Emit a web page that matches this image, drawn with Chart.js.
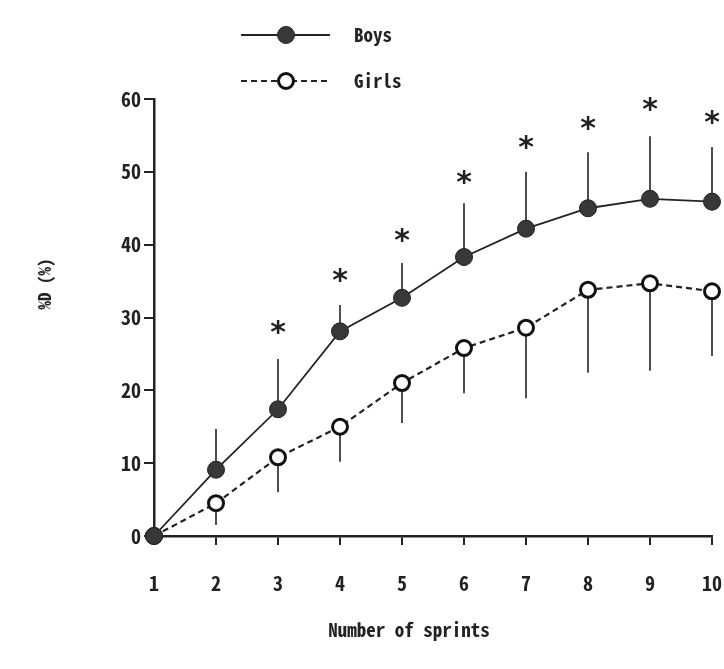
<!DOCTYPE html>
<html>
<head>
<meta charset="utf-8">
<title>%D by sprint</title>
<script src="https://cdn.jsdelivr.net/npm/chart.js@4.4.0/dist/chart.umd.min.js"></script>
<style>
  html, body { margin: 0; padding: 0; background: #fff; }
  #chart { display: block; }
</style>
</head>
<body>
<canvas id="chart" width="724" height="669"></canvas>
<script>
// sprint number and mean %D (SD) for each group
const sprints = [1, 2, 3, 4, 5, 6, 7, 8, 9, 10];
const boysMean = [0, 9.1, 17.4, 28.1, 32.7, 38.3, 42.2, 45.0, 46.3, 45.9];
const boysSD = [0, 5.6, 6.9, 3.6, 4.8, 7.4, 7.8, 7.7, 8.6, 7.5];
const girlsMean = [0, 4.5, 10.8, 15.0, 21.0, 25.8, 28.6, 33.8, 34.7, 33.6];
const girlsSD = [0, 3.0, 4.8, 4.8, 5.5, 6.2, 9.7, 11.4, 12.0, 8.9];
// height of the significance mark (*) above each sprint
const starLevel = [null, null, 28.6, 35.7, 41.3, 49.2, 54.0, 56.7, 59.2, 57.4];
const yTicks = [0, 10, 20, 30, 40, 50, 60];

const ink = '#222';
const numFont = '"Noto Sans Mono CJK JP", "DejaVu Sans Condensed", sans-serif';
const monoFont = '"Noto Sans Mono CJK JP", "DejaVu Sans Mono", monospace';

const boysStyle = { radius: 8.5, fill: '#383838', stroke: ink, width: 1, dash: [] };
const girlsStyle = { radius: 7.5, fill: '#fff', stroke: '#111', width: 3, dash: [6, 4] };

function toPoints(means) {
    return sprints.map((s, i) => ({ x: s, y: means[i] }));
}

// SD whiskers: boys point up, girls point down
const errorBars = {
    id: 'errorBars',
    beforeDatasetsDraw(chart) {
        const { ctx, scales: { x, y } } = chart;
        ctx.save();
        ctx.strokeStyle = ink;
        ctx.lineWidth = 1.6;
        sprints.forEach((s, i) => {
            const px = x.getPixelForValue(s);
            if (boysSD[i] > 0) {
                ctx.beginPath();
                ctx.moveTo(px, y.getPixelForValue(boysMean[i]));
                ctx.lineTo(px, y.getPixelForValue(boysMean[i] + boysSD[i]));
                ctx.stroke();
            }
            if (girlsSD[i] > 0) {
                ctx.beginPath();
                ctx.moveTo(px, y.getPixelForValue(girlsMean[i]));
                ctx.lineTo(px, y.getPixelForValue(girlsMean[i] - girlsSD[i]));
                ctx.stroke();
            }
        });
        ctx.restore();
    }
};

function drawMarker(ctx, cx, cy, st) {
    ctx.beginPath();
    ctx.arc(cx, cy, st.radius, 0, Math.PI * 2);
    ctx.fillStyle = st.fill;
    ctx.fill();
    ctx.lineWidth = st.width;
    ctx.strokeStyle = st.stroke;
    ctx.stroke();
}

// asterisks, axis titles and the line-sample legend
const annotations = {
    id: 'annotations',
    afterDraw(chart) {
        const { ctx, scales: { x, y } } = chart;
        ctx.save();
        ctx.fillStyle = ink;

        ctx.font = 'bold 30px "DejaVu Sans", sans-serif';
        ctx.textAlign = 'center';
        ctx.textBaseline = 'alphabetic';
        const m = ctx.measureText('*');
        const shift = (m.actualBoundingBoxAscent - m.actualBoundingBoxDescent) / 2;
        sprints.forEach((s, i) => {
            if (starLevel[i] == null) return;
            ctx.fillText('*', x.getPixelForValue(s), y.getPixelForValue(starLevel[i]) + shift);
        });

        ctx.font = 'bold 19px ' + monoFont;
        ctx.textBaseline = 'middle';
        ctx.fillText('Number of sprints', 409, 630);

        ctx.save();
        ctx.translate(45, 284);
        ctx.rotate(-Math.PI / 2);
        ctx.font = 'bold 17px ' + monoFont;
        ctx.fillText('%D (%)', 0, 0);
        ctx.restore();

        const rows = [
            { label: 'Boys', y: 35, st: boysStyle, lw: 1.8 },
            { label: 'Girls', y: 81, st: girlsStyle, lw: 2.2 }
        ];
        rows.forEach(r => {
            ctx.beginPath();
            ctx.setLineDash(r.st.dash);
            ctx.lineWidth = r.lw;
            ctx.strokeStyle = ink;
            ctx.moveTo(241, r.y);
            ctx.lineTo(330, r.y);
            ctx.stroke();
            ctx.setLineDash([]);
            drawMarker(ctx, 286, r.y, r.st);
            ctx.fillStyle = ink;
            ctx.font = 'bold 19px ' + monoFont;
            ctx.textAlign = 'left';
            ctx.fillText(r.label, 354, r.y);
        });
        ctx.restore();
    }
};

const ctx = document.getElementById('chart').getContext('2d');
new Chart(ctx, {
    type: 'line',
    data: {
        datasets: [
            {
                label: 'Boys',
                data: toPoints(boysMean),
                borderColor: ink,
                borderWidth: 1.8,
                pointRadius: boysStyle.radius,
                pointBackgroundColor: boysStyle.fill,
                pointBorderColor: boysStyle.stroke,
                pointBorderWidth: boysStyle.width,
                tension: 0,
                clip: false
            },
            {
                label: 'Girls',
                data: toPoints(girlsMean),
                borderColor: ink,
                borderWidth: 2.2,
                borderDash: girlsStyle.dash,
                pointRadius: girlsStyle.radius,
                pointBackgroundColor: girlsStyle.fill,
                pointBorderColor: girlsStyle.stroke,
                pointBorderWidth: girlsStyle.width,
                tension: 0,
                clip: false
            }
        ]
    },
    options: {
        responsive: false,
        animation: false,
        devicePixelRatio: 1,
        layout: { padding: { top: 99, right: 12, bottom: 0, left: 0 } },
        plugins: {
            legend: { display: false },
            tooltip: { enabled: false }
        },
        scales: {
            x: {
                type: 'linear',
                min: 1,
                max: 10,
                afterFit: s => { s.height = 133; },
                afterBuildTicks: s => { s.ticks = sprints.map(v => ({ value: v })); },
                // tall line height pushes the labels down without widening the side padding
                ticks: { color: ink, padding: 0, font: { family: numFont, size: 20, weight: 'bold', lineHeight: 3.8 } },
                grid: { drawOnChartArea: false, drawTicks: true, tickLength: 9, color: ink, lineWidth: 2 },
                border: { color: ink, width: 2.5 }
            },
            y: {
                min: 0,
                max: 60,
                afterFit: s => { s.width = 154; },
                afterBuildTicks: s => { s.ticks = yTicks.map(v => ({ value: v })); },
                ticks: { color: ink, padding: 3, font: { family: numFont, size: 20, weight: 'bold' } },
                grid: { drawOnChartArea: false, drawTicks: true, tickLength: 10, color: ink, lineWidth: 2 },
                border: { color: ink, width: 2.5 }
            }
        }
    },
    plugins: [errorBars, annotations]
});
</script>
</body>
</html>
